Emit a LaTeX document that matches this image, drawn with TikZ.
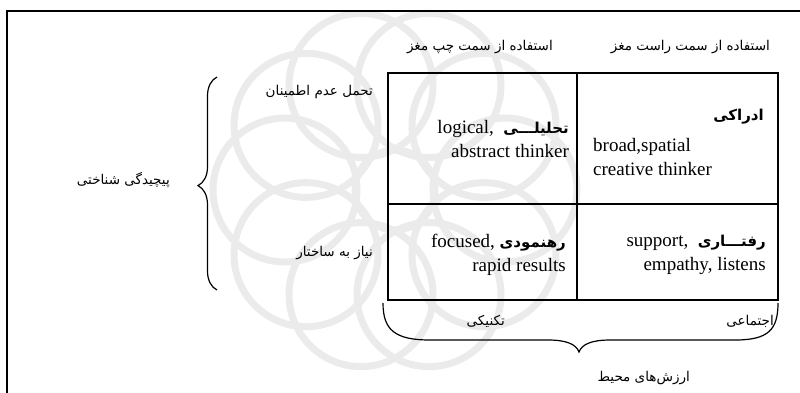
\documentclass[tikz,border=0pt]{standalone}
\usepackage{fontspec}
\setmainfont{Liberation Serif}
\newfontfamily\fa[Script=Arabic]{DejaVu Sans}
\TeXXeTstate=1
\usetikzlibrary{decorations.pathreplacing}
\tikzset{
  fatxt/.style={font=\fa\fontsize{13.5}{16}\selectfont, inner sep=0pt},
  fabold/.style={font=\fa\bfseries\fontsize{15}{17}\selectfont, inner sep=0pt},
  latxt/.style={font=\fontsize{19}{24}\selectfont, inner sep=0pt},
  gridline/.style={line width=1.6pt},
  bracestyle/.style={line width=1.2pt},
  wm/.style={line width=7pt, color=black!8},
}
\begin{document}
\begin{tikzpicture}[x=1pt,y=-1pt]
\useasboundingbox (0,0) rectangle (800,392);
\clip (0,0) rectangle (800,392);
% watermark
\begin{scope}
  \foreach \k in {0,36,...,324}{
    \draw[wm] (395,190) ++(\k:110) circle (72);
  }
  \draw[wm] (395,190) circle (40);
\end{scope}
% frame
\coordinate (fbl) at (7,420);
\coordinate (ftr) at (830,11);
\draw[line width=2pt] (fbl) |- (ftr);
% grid
\coordinate (g00) at (388,73);
\coordinate (g11) at (778,300);
\coordinate (gmt) at (577,73);
\coordinate (gmb) at (577,300);
\coordinate (gml) at (388,204);
\coordinate (gmr) at (778,204);
\draw[gridline] (g00) rectangle (g11);
\draw[gridline] (gmt) -- (gmb);
\draw[gridline] (gml) -- (gmr);
% headers
\node[fatxt, anchor=east] (hL) at (553,47) {\beginR استفاده از سمت چپ مغز\endR};
\node[fatxt, anchor=east] (hR) at (770,47) {\beginR استفاده از سمت راست مغز\endR};
% cells
\node[latxt, align=right, anchor=east] (c11) at (569,139) {logical,\ \ {\fa\bfseries\fontsize{15}{17}\selectfont\beginR تحلیلـــی\endR}\\abstract thinker};
\node[fabold, anchor=east] (c12a) at (764,117) {\beginR ادراکی\endR};
\node[latxt, align=left, anchor=west] (c12b) at (593,157) {broad,spatial\\creative thinker};
\node[latxt, align=right, anchor=east] (c21) at (566,255) {focused, {\fa\bfseries\fontsize{15}{17}\selectfont\beginR رهنمودی\endR}\\rapid results};
\node[latxt, align=right, anchor=east] (c22) at (766,255) {support,\ \ {\fa\bfseries\fontsize{15}{17}\selectfont\beginR رفتـــاری\endR}\\empathy, listens};
% side labels
\node[fatxt, anchor=east] (tol) at (373,92) {\beginR تحمل عدم اطمینان\endR};
\node[fatxt, anchor=east] (need) at (373,253) {\beginR نیاز به ساختار\endR};
\node[fatxt, anchor=east] (cog) at (170,180) {\beginR پیچیدگی شناختی\endR};
% bottom labels
\node[fatxt, anchor=east] (tech) at (505,321) {\beginR تکنیکی\endR};
\node[fatxt, anchor=east] (soc) at (774,321) {\beginR اجتماعی\endR};
\node[fatxt, anchor=east] (env) at (690,378) {\beginR ارزش‌های محیط\endR};
% left brace
\coordinate (lbb) at (217,290);
\coordinate (lbt) at (217,77);
\draw[bracestyle, decorate, decoration={brace, amplitude=19pt, aspect=0.49}] (lbb) -- (lbt);
% bottom brace
\coordinate (bbl) at (383,303);
\coordinate (bbr) at (778,303);
\coordinate (bbtip) at (579,352);
\draw[bracestyle] (bbl) .. controls (383,330) and (395,340) .. (430,340) -- (548,340)
  .. controls (566,340) and (576,344) .. (bbtip)
  .. controls (582,344) and (592,340) .. (610,340) -- (735,340)
  .. controls (768,340) and (778,330) .. (bbr);
\end{tikzpicture}
\end{document}
